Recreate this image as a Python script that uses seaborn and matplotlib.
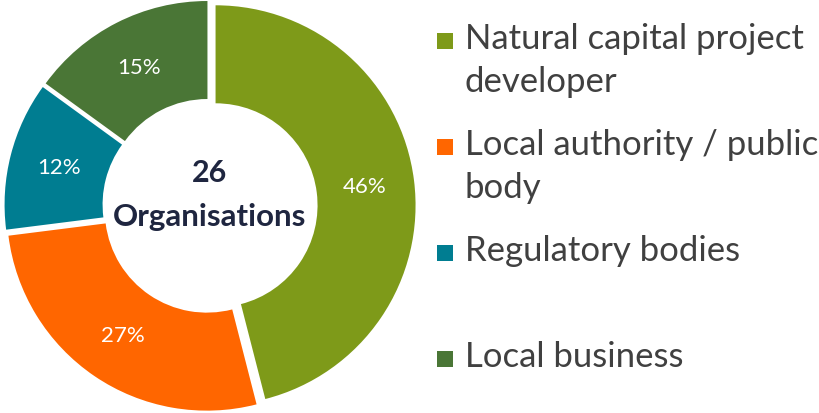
import matplotlib
matplotlib.use("Agg")
import matplotlib.pyplot as plt
import matplotlib.patches as mpatches
import seaborn as sns

# data
categories = ["Natural capital project developer", "Local authority / public body",
              "Regulatory bodies", "Local business"]
legend_labels = ["Natural capital project\ndeveloper", "Local authority / public\nbody",
                 "Regulatory bodies", "Local business"]
shares = [46, 27, 12, 15]
total_orgs = 26
colors = ["#7E9A19", "#FF6600", "#007D91", "#4A7636"]

sns.set_theme(style="white")
plt.rcParams["font.family"] = ["Lato", "DejaVu Sans"]

fig = plt.figure(figsize=(8.2, 4.14), dpi=100)
ax = fig.add_axes([3 / 820, 0, 414 / 820, 1])

wedges, texts, autotexts = ax.pie(
    shares, colors=colors, startangle=90, counterclock=False,
    explode=[0.028] * len(shares), radius=1,
    wedgeprops=dict(width=0.49, edgecolor="none"),
    autopct="%d%%", pctdistance=0.75,
    textprops=dict(color="white", fontsize=16),
)
ax.set_xlim(-1.035, 1.035)
ax.set_ylim(-1.035, 1.035)
ax.set_aspect("equal")
ax.axis("off")

ax.text(0, 0.17, str(total_orgs), ha="center", va="center",
        fontsize=22, fontweight="bold", color="#1F2640")
ax.text(0, -0.05, "Organisations", ha="center", va="center",
        fontsize=22.5, fontweight="bold", color="#1F2640")

# legend drawn by hand so markers line up with the first text line
top = 372 / 414
step = 106 / 414
for i, (lab, col) in enumerate(zip(legend_labels, colors)):
    y = top - i * step
    fig.patches.append(mpatches.Rectangle((437 / 820, y - 8 / 414), 16 / 820, 16 / 414,
                                          transform=fig.transFigure, facecolor=col,
                                          edgecolor="none"))
    fig.text(465 / 820, y + 19 / 414, lab, ha="left", va="top", fontsize=25,
             color="#404040", linespacing=1.42)

fig.savefig("out.png", dpi=100)
